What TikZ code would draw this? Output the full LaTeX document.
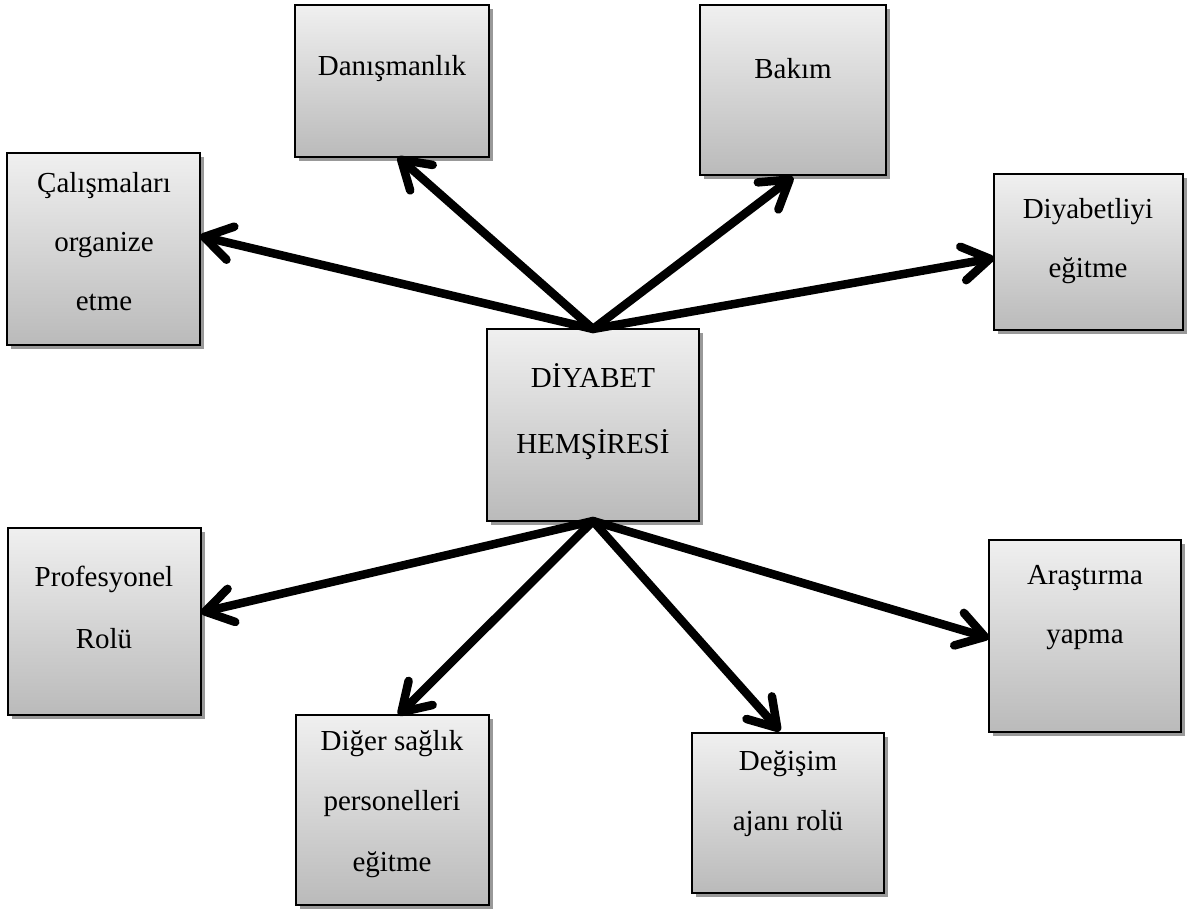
\documentclass[tikz,border=0pt]{standalone}
\usepackage{fontspec}
\setmainfont{Liberation Serif}
\usetikzlibrary{arrows.meta,shadows}
\tikzset{
  box/.style={draw=black, line width=1.3pt, top color=black!6, bottom color=black!27,
    general shadow={fill=black!40, shadow xshift=4pt, shadow yshift=-4pt},
    inner sep=0pt, outer sep=0pt},
  lbl/.style={anchor=base, inner sep=0pt, font=\fontsize{29}{35}\selectfont},
  arr/.style={line width=8.5pt, line cap=round, -{Straight Barb[length=27pt,width=34pt,round]}}
}
\newcommand{\mybox}[5]{\node[box, minimum width={(#4)-(#2)}, minimum height={(#5)-(#3)}] (#1) at ({((#2)+(#4))/2},{((#3)+(#5))/2}) {};}
\begin{document}
\begin{tikzpicture}[x=1pt,y=-1pt]
\useasboundingbox (0,0) rectangle (1192,913);
\mybox{dan}{295}{5}{489}{157}
\mybox{bak}{700}{5}{886}{175}
\mybox{cal}{7}{153}{200}{345}
\mybox{diy}{994}{174}{1183}{330}
\mybox{cen}{487}{329}{699}{521}
\mybox{pro}{8}{528}{201}{715}
\mybox{dig}{296}{715}{489}{905}
\mybox{deg}{692}{733}{884}{893}
\mybox{ara}{989}{540}{1181}{732}

\node[lbl] (tdan) at (392,75) {Danışmanlık};
\node[lbl] (tbak) at (793,78) {Bakım};
\node[lbl] (tcal1) at (104,192) {Çalışmaları};
\node[lbl] (tcal2) at (104,251) {organize};
\node[lbl] (tcal3) at (104,310) {etme};
\node[lbl] (tdiy1) at (1088,218) {Diyabetliyi};
\node[lbl] (tdiy2) at (1088,277) {eğitme};
\node[lbl] (tcen1) at (593,387) {DİYABET};
\node[lbl] (tcen2) at (593,453) {HEMŞİRESİ};
\node[lbl] (tpro1) at (104,586) {Profesyonel};
\node[lbl] (tpro2) at (104,648) {Rolü};
\node[lbl] (tdig1) at (392,750) {Diğer sağlık};
\node[lbl] (tdig2) at (392,810) {personelleri};
\node[lbl] (tdig3) at (392,871) {eğitme};
\node[lbl] (tdeg1) at (788,770) {Değişim};
\node[lbl] (tdeg2) at (788,830) {ajanı rolü};
\node[lbl] (tara1) at (1085,584) {Araştırma};
\node[lbl] (tara2) at (1085,643) {yapma};

\draw[arr] (cen.north) -- ([xshift=6pt]dan.south);
\draw[arr] (cen.north) -- ([yshift=-2pt]bak.south);
\draw[arr] (cen.north) -- ([yshift=13pt]cal.east);
\draw[arr] (cen.north) -- ([yshift=-6pt]diy.west);
\draw[arr] (cen.south) -- ([yshift=9pt]pro.east);
\draw[arr] (cen.south) -- ([xshift=6pt]dig.north);
\draw[arr] (cen.south) -- ([xshift=-8pt,yshift=2pt]deg.north);
\draw[arr] (cen.south) -- ([yshift=-2pt]ara.west);
\end{tikzpicture}
\end{document}
